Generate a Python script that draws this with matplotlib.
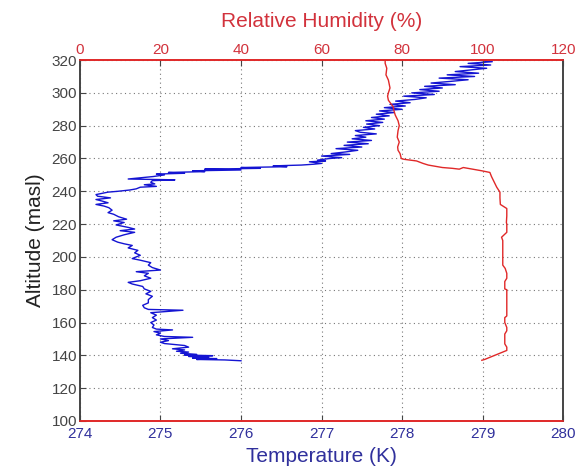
import numpy as np
import matplotlib
matplotlib.use('Agg')
import matplotlib.pyplot as plt

plt.rcParams['font.family'] = ['Liberation Sans', 'DejaVu Sans']

# temperature profile (K) vs altitude (masl)
t_alt = [
    136.7, 137.2, 137.5, 138.0, 138.3, 138.8, 139.3, 139.8, 140.2, 140.6,
    141.3, 142.0, 142.5, 143.3, 144.0, 145.0, 146.0, 147.2, 148.0, 149.0,
    150.0, 151.0, 151.5, 152.5, 153.5, 154.5, 155.5, 156.0, 157.0, 158.5,
    160.0, 161.5, 163.0, 164.5, 166.0, 167.5, 168.0, 169.0, 170.5, 172.0,
    174.0, 176.0, 177.5, 179.0, 180.5, 182.0, 183.5, 184.5, 185.5, 187.0,
    188.5, 190.0, 191.0, 192.0, 193.5, 195.0, 196.5, 198.0, 199.0, 200.0,
    201.0, 202.5, 204.0, 205.5, 207.0, 208.0, 209.0, 210.5, 212.0, 213.5,
    215.0, 216.0, 217.0, 218.0, 219.5, 221.0, 222.0, 223.0, 224.5, 226.0,
    227.0, 228.5, 230.0, 231.0, 232.0, 233.0, 234.0, 235.0, 236.0, 237.0,
    238.0, 239.0, 239.5, 240.0, 240.8, 241.5, 242.5, 243.0, 244.0, 244.5,
    245.5, 246.5, 247.0, 247.5, 248.0, 249.0, 250.0, 250.5, 251.0, 251.5,
    252.0, 252.5, 253.0, 253.5, 254.0, 254.5, 255.0, 255.5, 256.0, 256.5,
    257.0, 258.0, 258.5, 259.0, 260.0, 260.5, 261.5, 262.5, 263.0, 264.0,
    265.0, 266.0, 267.0, 268.0, 269.0, 270.0, 271.0, 272.0, 273.0, 274.0,
    275.0, 276.0, 277.0, 278.0, 279.0, 280.0, 281.0, 282.0, 283.0, 284.0,
    285.0, 286.0, 287.0, 288.0, 289.0, 290.0, 291.0, 292.0, 293.0, 294.0,
    295.0, 296.0, 297.0, 298.0, 299.0, 300.0, 301.0, 302.0, 303.0, 304.0,
    305.0, 306.0, 307.0, 308.0, 309.0, 310.0, 311.0, 312.0, 313.0, 314.0,
    315.0, 316.0, 317.0, 318.0, 319.0, 320.0]
temp = [
    276.00, 275.80, 275.45, 275.70, 275.40, 275.60, 275.35, 275.65, 275.30, 275.45,
    275.25, 275.35, 275.20, 275.30, 275.15, 275.35, 275.30, 275.05, 275.00, 275.10,
    275.00, 275.40, 275.05, 274.95, 275.00, 274.92, 275.15, 274.95, 274.90, 274.92,
    274.88, 274.95, 274.90, 274.95, 274.88, 275.28, 274.85, 274.80, 274.78, 274.85,
    274.85, 274.90, 274.82, 274.88, 274.80, 274.78, 274.65, 274.60, 274.75, 274.88,
    274.80, 274.85, 274.70, 275.00, 274.90, 274.85, 274.88, 274.75, 274.65, 274.70,
    274.75, 274.68, 274.72, 274.60, 274.65, 274.55, 274.47, 274.40, 274.45, 274.55,
    274.68, 274.50, 274.68, 274.60, 274.45, 274.55, 274.42, 274.58, 274.48, 274.42,
    274.35, 274.40, 274.36, 274.30, 274.20, 274.35, 274.28, 274.20, 274.38, 274.22,
    274.20, 274.30, 274.35, 274.47, 274.62, 274.70, 274.75, 274.95, 274.80, 274.93,
    274.88, 274.90, 275.18, 274.60, 274.70, 274.91, 275.05, 274.95, 275.30, 275.10,
    275.55, 275.40, 276.00, 275.55, 276.24, 276.00, 276.57, 276.40, 276.75, 276.90,
    277.00, 276.85, 277.05, 276.95, 277.10, 277.25, 277.00, 277.35, 277.12, 277.30,
    277.45, 277.18, 277.50, 277.28, 277.58, 277.32, 277.62, 277.38, 277.55, 277.42,
    277.68, 277.48, 277.42, 277.66, 277.52, 277.72, 277.56, 277.76, 277.55, 277.78,
    277.62, 277.84, 277.68, 277.90, 277.72, 278.00, 277.78, 278.04, 277.85, 278.10,
    277.92, 278.16, 278.30, 278.02, 278.40, 278.12, 278.46, 278.22, 278.50, 278.28,
    278.66, 278.36, 278.60, 278.82, 278.46, 278.90, 278.56, 278.95, 278.66, 278.85,
    279.05, 278.72, 279.10, 278.82, 279.12, 278.95]

# relative humidity (%) vs altitude (masl)
rh_alt = [
    137.0, 137.5, 139.0, 141.0, 143.0, 145.0, 147.0, 150.0, 153.0, 155.0,
    157.0, 160.0, 163.0, 164.0, 170.0, 175.0, 180.0, 180.5, 185.0, 187.0,
    190.0, 193.0, 195.0, 200.0, 205.0, 210.0, 212.0, 215.0, 220.0, 221.0,
    225.0, 229.5, 232.0, 236.0, 239.5, 242.5, 245.0, 249.0, 251.5, 252.5,
    253.5, 254.5, 253.5, 254.0, 254.5, 256.0, 257.0, 258.5, 259.5, 260.0,
    263.0, 265.0, 267.0, 270.0, 273.0, 277.0, 280.0, 283.0, 286.5, 289.0,
    291.5, 293.5, 295.5, 298.0, 300.0, 303.0, 307.8, 311.0, 315.0, 318.0, 320.0]
rh = [
    99.8, 100.5, 102.0, 104.0, 106.0, 106.0, 105.5, 105.5, 105.5, 106.0,
    106.0, 105.5, 105.5, 106.0, 106.0, 106.0, 106.0, 105.5, 105.5, 106.0,
    106.0, 105.6, 105.0, 105.0, 105.0, 105.0, 104.7, 106.0, 106.0, 105.9,
    106.0, 106.0, 104.4, 104.3, 104.3, 103.5, 103.0, 102.2, 101.8, 99.8,
    97.5, 95.2, 94.2, 92.5, 90.0, 86.5, 85.2, 83.6, 80.5, 79.8,
    79.5, 79.0, 78.9, 79.3, 78.8, 79.0, 79.3, 79.0, 78.3, 78.0,
    77.8, 77.2, 76.6, 76.4, 76.6, 77.0, 76.6, 76.0, 76.2, 75.8, 75.8]

t_ticks = [274, 275, 276, 277, 278, 279, 280]
rh_ticks = [0, 20, 40, 60, 80, 100, 120]
alt_ticks = list(range(100, 321, 20))

blue = '#1414d2'
red = '#e02828'
tblue = '#30309c'
tred = '#d2323c'
gray = '#444444'

fig = plt.figure(figsize=(5.83, 4.73), dpi=100)
ax = fig.add_axes([0.137, 0.110, 0.829, 0.763])
ax.plot(temp, t_alt, color=blue, lw=1.0)
ax.set_xlim(274, 280)
ax.set_ylim(100, 320)
ax.set_xticks(t_ticks)
ax.set_yticks(alt_ticks)
ax.grid(True, color='#777777', ls=(0, (1, 3)), lw=0.8)
ax.tick_params(axis='x', direction='in', colors=tblue, labelsize=11, length=4, pad=4)
ax.tick_params(axis='y', direction='in', colors=gray, labelsize=11, length=4, pad=2)
ax.set_xlabel('Temperature (K)', color=tblue, fontsize=15, labelpad=5)
ax.set_ylabel('Altitude (masl)', color='#222222', fontsize=15, labelpad=5)

ax2 = ax.twiny()
ax2.plot(rh, rh_alt, color=red, lw=1.0)
ax2.set_xlim(0, 120)
ax2.set_xticks(rh_ticks)
ax2.tick_params(axis='x', direction='in', colors=tred, labelsize=11, length=4, pad=2)
ax2.set_xlabel('Relative Humidity (%)', color=tred, fontsize=15, labelpad=12)

for a in (ax, ax2):
    a.spines['top'].set_color(red)
    a.spines['bottom'].set_color(red)
    a.spines['left'].set_color(gray)
    a.spines['right'].set_color(gray)
    for s in a.spines.values():
        s.set_linewidth(1.2)
ax.tick_params(axis='x', color=gray)
ax2.tick_params(axis='x', color=gray)

fig.savefig('out.png', dpi=100)
